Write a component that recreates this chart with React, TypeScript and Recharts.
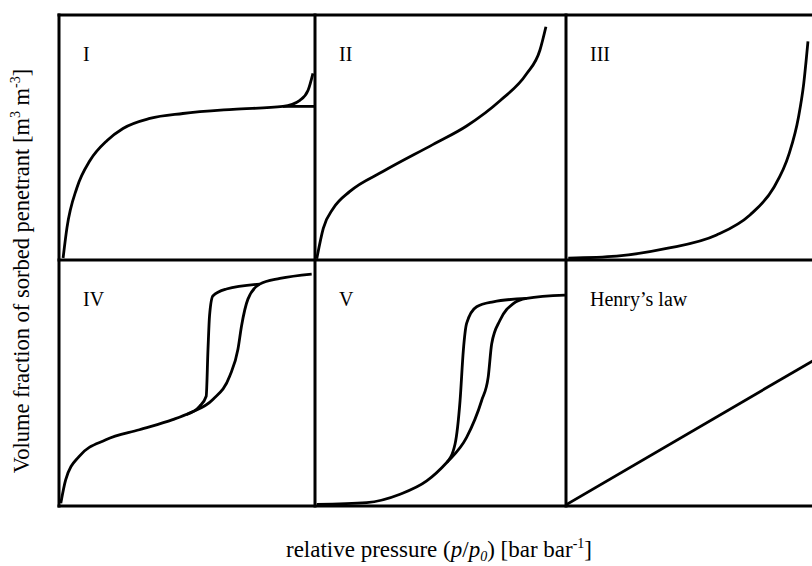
import { LineChart, Line, XAxis, YAxis } from "recharts";

type Pt = { x: number; y: number };

// values in % of each panel's width / height
const typeI: Pt[] = [
  { x: 1.6, y: 0.8 }, { x: 3.1, y: 13.1 }, { x: 7.0, y: 29.5 }, { x: 12.1, y: 40.6 },
  { x: 18.8, y: 48.8 }, { x: 25, y: 53.7 }, { x: 35.5, y: 57.8 }, { x: 48.4, y: 59.8 },
  { x: 68, y: 61.5 }, { x: 87.5, y: 62.7 }, { x: 94.1, y: 65.2 }, { x: 97.3, y: 69.3 },
  { x: 99.2, y: 76.2 },
];
const typeIStep: Pt[] = [{ x: 87.5, y: 62.7 }, { x: 100, y: 62.7 }];

const typeII: Pt[] = [
  { x: 0.7, y: 0.5 }, { x: 3.3, y: 12.9 }, { x: 7.3, y: 21.1 }, { x: 13.9, y: 28 },
  { x: 27.2, y: 36.2 }, { x: 47.1, y: 47.2 }, { x: 60.4, y: 54.7 }, { x: 73.7, y: 65 },
  { x: 84.3, y: 76 }, { x: 89.6, y: 85.6 }, { x: 92, y: 95.2 },
];

const typeIII: Pt[] = [
  { x: 0.9, y: 0.8 }, { x: 20.2, y: 1.6 }, { x: 40.1, y: 4.7 }, { x: 60, y: 10.2 },
  { x: 73.3, y: 18.4 }, { x: 82.6, y: 29.3 }, { x: 88.8, y: 43.1 }, { x: 92.6, y: 58.2 },
  { x: 94.7, y: 71.9 }, { x: 96.4, y: 89.2 },
];

const typeIVads: Pt[] = [
  { x: 0.7, y: 1.1 }, { x: 2.6, y: 10.6 }, { x: 7.8, y: 20.1 }, { x: 18.3, y: 26.9 },
  { x: 31.4, y: 31 }, { x: 44.4, y: 35.1 }, { x: 51, y: 37.8 }, { x: 60.1, y: 43.3 },
  { x: 66.7, y: 52.8 }, { x: 69.9, y: 63.7 }, { x: 71.3, y: 73.2 }, { x: 73.8, y: 84.1 },
  { x: 78.4, y: 90.2 }, { x: 86.3, y: 92.5 }, { x: 98.7, y: 94.3 },
];
const typeIVdes: Pt[] = [
  { x: 49.7, y: 37.1 }, { x: 54.9, y: 40.5 }, { x: 57.5, y: 44.6 }, { x: 58.2, y: 63.7 },
  { x: 58.8, y: 77.3 }, { x: 60.1, y: 85.4 }, { x: 65.4, y: 88.2 }, { x: 78.4, y: 90.2 },
];

const typeVads: Pt[] = [
  { x: 0.7, y: 0.7 }, { x: 20.6, y: 1.4 }, { x: 33.9, y: 4.8 }, { x: 44.5, y: 10.2 },
  { x: 52.5, y: 17.7 }, { x: 60.4, y: 27.9 }, { x: 66.4, y: 42.9 }, { x: 69, y: 52.4 },
  { x: 70.4, y: 66 }, { x: 73.7, y: 75.5 }, { x: 79, y: 82.3 }, { x: 84.3, y: 84.4 },
  { x: 99.6, y: 85.7 },
];
const typeVdes: Pt[] = [
  { x: 52.5, y: 17.7 }, { x: 55.8, y: 25.2 }, { x: 57.8, y: 42.9 }, { x: 59.1, y: 63.3 },
  { x: 60.4, y: 74.2 }, { x: 64.4, y: 81 }, { x: 71, y: 83 }, { x: 84.3, y: 84.4 },
];

const henry: Pt[] = [{ x: 0, y: 0.5 }, { x: 100, y: 60 }];

const panelLabels = ["I", "II", "III", "IV", "V", "Henry\u2019s law"];

const colX = [59, 315, 566, 817];
const rowY = [15, 260, 506];
const FONT = "'Liberation Serif', 'Times New Roman', serif";

const panels = [
  { col: 0, row: 0, series: [typeI, typeIStep] },
  { col: 1, row: 0, series: [typeII] },
  { col: 2, row: 0, series: [typeIII] },
  { col: 0, row: 1, series: [typeIVads, typeIVdes] },
  { col: 1, row: 1, series: [typeVads, typeVdes] },
  { col: 2, row: 1, series: [henry] },
];

function Panel({ col, row, series }: { col: number; row: number; series: Pt[][] }) {
  const left = colX[col];
  const top = rowY[row];
  const width = colX[col + 1] - left;
  const height = rowY[row + 1] - top;
  return (
    <div style={{ position: "absolute", left, top }}>
      <LineChart width={width} height={height} margin={{ top: 0, right: 0, bottom: 0, left: 0 }}>
        <XAxis type="number" dataKey="x" domain={[0, 100]} hide />
        <YAxis type="number" dataKey="y" domain={[0, 100]} hide />
        {series.map((d, i) => (
          <Line
            key={i}
            data={d}
            dataKey="y"
            type="monotone"
            stroke="#000"
            strokeWidth={2.8}
            dot={false}
            activeDot={false}
            isAnimationActive={false}
          />
        ))}
      </LineChart>
    </div>
  );
}

export default function App() {
  return (
    <div style={{ position: "relative", width: 812, height: 566, overflow: "hidden", background: "#fff" }}>
      <style>{"html,body{margin:0;padding:0;overflow:hidden}"}</style>
      {panels.map((p, i) => (
        <Panel key={i} {...p} />
      ))}
      <svg width={812} height={566} style={{ position: "absolute", left: 0, top: 0, pointerEvents: "none" }}>
        <g stroke="#000" strokeWidth={3}>
          {rowY.map((y) => (
            <line key={"h" + y} x1={57.5} x2={830} y1={y} y2={y} />
          ))}
          {colX.slice(0, 3).map((x) => (
            <line key={"v" + x} x1={x} x2={x} y1={13.5} y2={507.5} />
          ))}
        </g>
        <g fontFamily={FONT} fontSize={20} fill="#000">
          {panels.map((p, i) => (
            <text key={i} x={colX[p.col] + 24} y={rowY[p.row] + 46}>
              {panelLabels[i]}
            </text>
          ))}
        </g>
        <text x={439} y={557} textAnchor="middle" fontFamily={FONT} fontSize={23}>
          relative pressure (<tspan fontStyle="italic">p</tspan>/<tspan fontStyle="italic">p</tspan>
          <tspan dy={4} fontSize={14} fontStyle="italic">0</tspan>
          <tspan dy={-4}>) [bar bar</tspan>
          <tspan dy={-9} fontSize={14}>-1</tspan>
          <tspan dy={9}>]</tspan>
        </text>
        <text
          transform="translate(28.5 271) rotate(-90)"
          textAnchor="middle"
          fontFamily={FONT}
          fontSize={22.5}
        >
          Volume fraction of sorbed penetrant [m<tspan dy={-9} fontSize={14}>3</tspan>
          <tspan dy={9}> m</tspan>
          <tspan dy={-9} fontSize={14}>-3</tspan>
          <tspan dy={9}>]</tspan>
        </text>
      </svg>
    </div>
  );
}
